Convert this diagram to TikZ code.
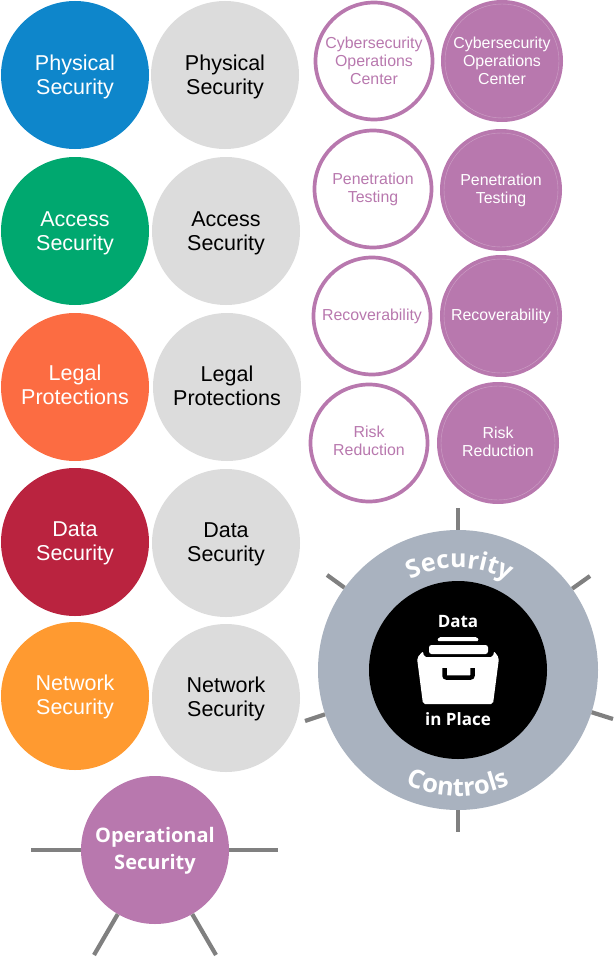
\documentclass[tikz,border=0pt]{standalone}
\usepackage{fontspec}
\setmainfont{Liberation Sans}
\newfontfamily\opensans{Open Sans}
\usetikzlibrary{decorations.text}

\begin{document}
\begin{tikzpicture}[x=1pt, y=1pt,
    bigdisc/.style={circle, inner sep=0pt, minimum size=148pt},
    bigtext/.style={align=center, font=\fontsize{21.5}{24}\selectfont},
    ringdisc/.style={circle, inner sep=0pt, outer sep=0pt, minimum size=117pt, draw=purpleColour, line width=3.7pt},
    paledisc/.style={circle, inner sep=0pt, minimum size=122pt, fill=purpleColour},
    smalltext/.style={align=center, font=\fontsize{15.9}{18}\selectfont},
    spoke/.style={draw=spokeColour, line width=4.2pt}]
    % Define colours
    \definecolor{blueColour}{HTML}{0E86CB}
    \definecolor{greenColour}{HTML}{00A86F}
    \definecolor{orangeColour}{HTML}{FC6C42}
    \definecolor{redColour}{HTML}{BA233F}
    \definecolor{amberColour}{HTML}{FF9A30}
    \definecolor{greyColour}{HTML}{DCDCDC}
    \definecolor{purpleColour}{HTML}{B878AE}
    \definecolor{slateColour}{HTML}{A9B2BF}
    \definecolor{spokeColour}{HTML}{808080}

    % Fix the page
    \useasboundingbox (0,0) rectangle (615,-958);

    % Draw coloured column
    \foreach \name/\y/\dy/\colour/\label in {physical/-75/-1.5/blueColour/{Physical\\Security},
        access/-231/-2.5/greenColour/{Access\\Security},
        legal/-387/2/orangeColour/{Legal\\Protections},
        data/-542/-1.5/redColour/{Data\\Security},
        network/-696/-1/amberColour/{Network\\Security}}
    {
        \node[bigdisc, fill=\colour] (\name) at (75,\y) {};
        \node[bigtext, text=white] (\name Text) at (75,\y+\dy) {\label};
    }

    % Draw grey column
    \foreach \name/\x/\y/\dy/\label in {physicalB/225/-75/-1.5/{Physical\\Security},
        accessB/226/-231/-2.5/{Access\\Security},
        legalB/227/-387/1/{Legal\\Protections},
        dataB/226/-543/-1.5/{Data\\Security},
        networkB/226/-698/-1/{Network\\Security}}
    {
        \node[bigdisc, fill=greyColour] (\name) at (\x,\y) {};
        \node[bigtext, text=black] (\name Text) at (\x,\y+\dy) {\label};
    }

    % Draw outlined column
    \foreach \name/\x/\y/\dy/\label in {soc/374/-61/0.5/{Cybersecurity\\Operations\\Center},
        pentest/373/-189/0/{Penetration\\Testing},
        recover/372/-316/0/{Recoverability},
        risk/369/-443/2/{Risk\\Reduction}}
    {
        \node[ringdisc] (\name) at (\x,\y) {};
        \node[smalltext, text=purpleColour] (\name Text) at (\x,\y+\dy) {\label};
    }

    % Draw filled column
    \foreach \name/\x/\y/\dy/\label in {socB/502/-61/0.5/{Cybersecurity\\Operations\\Center},
        pentestB/501/-190/0/{Penetration\\Testing},
        recoverB/501/-316/0/{Recoverability},
        riskB/498/-443/1/{Risk\\Reduction}}
    {
        \node[paledisc] (\name) at (\x,\y) {};
        \draw[white, opacity=0.3, line width=0.4pt] (\name) circle (57);
        \node[smalltext, text=white] (\name Text) at (\x,\y+\dy) {\label};
    }

    % Draw operational security and its spokes
    \node[bigdisc, fill=purpleColour] (opsec) at (155,-850) {};
    \node[text=white, align=center, font=\opensans\bfseries\fontsize{20}{26.5}\selectfont] (opsecText) at (155,-851) {Operational\\Security};
    \coordinate (opW) at (31,-850);
    \coordinate (opE) at (278,-850);
    \coordinate (opSW) at (94,-955);
    \coordinate (opSE) at (216,-955);
    \foreach \tip in {opW,opE,opSW,opSE}
        \draw[spoke] (opsec) -- (\tip);

    % Draw security controls ring and its spokes
    \node[circle, inner sep=0pt, minimum size=280pt, fill=slateColour] (controls) at (458,-670) {};
    \node[circle, inner sep=0pt, minimum size=178pt, fill=black] (place) at (458,-670) {};
    \coordinate (ctN) at (458,-508);
    \coordinate (ctNE) at (590,-576);
    \coordinate (ctE) at (613,-719);
    \coordinate (ctS) at (458,-832);
    \coordinate (ctW) at (305,-721);
    \coordinate (ctNW) at (327,-575);
    \foreach \tip in {ctN,ctNE,ctE,ctS,ctW,ctNW}
        \draw[spoke] (controls) -- (\tip);

    % Curved labels on the ring
    \path[decorate, decoration={text along path, text align=center, text color=white,
        text={|\opensans\bfseries\fontsize{25}{26}\selectfont|Security}}]
        (458,-670) ++(149:102) arc (149:29:102);
    \path[decorate, decoration={text along path, text align=center, text color=white,
        text={|\opensans\bfseries\fontsize{25.5}{26}\selectfont|Controls}}]
        (458,-670) ++(212:126) arc (212:328:126);

    % Labels in the black disc
    \node[text=white, font=\opensans\bfseries\fontsize{17}{18}\selectfont] (dataLabel) at (458,-622) {Data};
    \node[text=white, font=\opensans\bfseries\fontsize{17}{18}\selectfont] (inPlace) at (458,-719) {in Place};

    % Draw the drawer
    \fill[white, rounded corners=1.5pt] (437,-641) -- (439,-637) -- (477,-637) -- (479,-641) -- cycle;
    \fill[white, rounded corners=2.5pt] (429,-654) -- (429,-645) -- (488,-645) -- (488,-654) -- cycle;
    \fill[white, rounded corners=2pt] (417,-658) -- (423,-651) -- (424,-657) -- (493,-657) -- (494,-651) -- (499,-658) -- (493,-704) -- (423,-704) -- cycle;
    \draw[black, line width=4.5pt, rounded corners=2pt] (444.5,-668) -- (444.5,-677.5) -- (472.5,-677.5) -- (472.5,-668);
\end{tikzpicture}
\end{document}
